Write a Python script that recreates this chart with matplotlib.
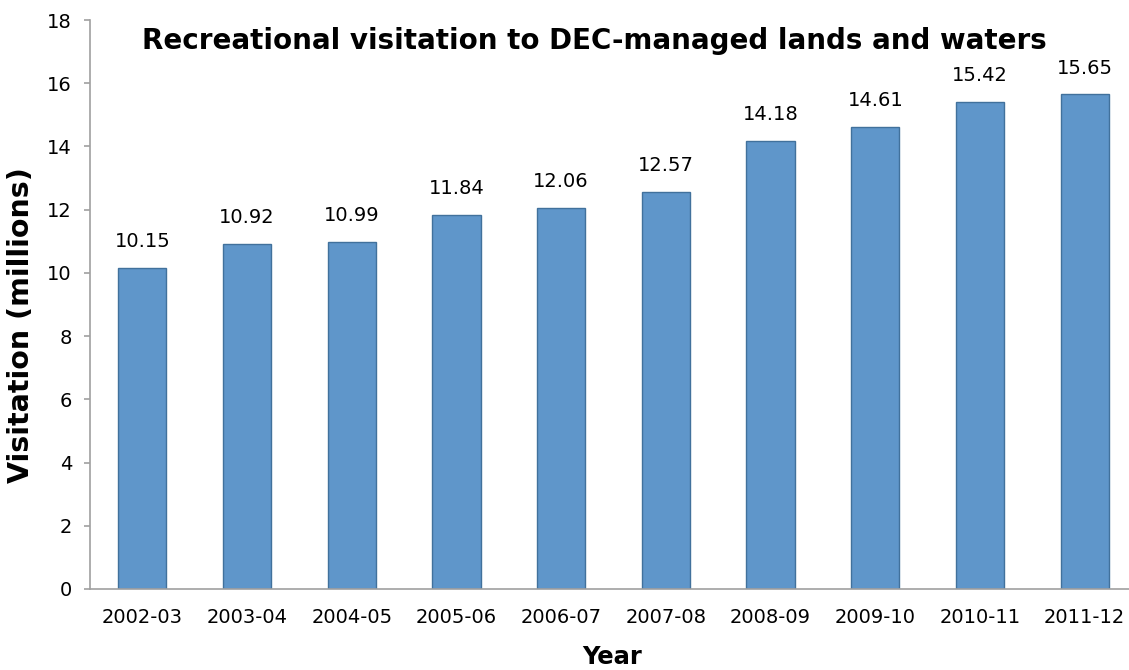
import matplotlib
matplotlib.use("Agg")
import matplotlib.pyplot as plt

years = ["2002-03", "2003-04", "2004-05", "2005-06", "2006-07",
         "2007-08", "2008-09", "2009-10", "2010-11", "2011-12"]
visits = [10.15, 10.92, 10.99, 11.84, 12.06, 12.57, 14.18, 14.61, 15.42, 15.65]
yticks = [0, 2, 4, 6, 8, 10, 12, 14, 16, 18]

plt.rcParams['font.family'] = ['DejaVu Sans']
W, H = 1129, 670
fig = plt.figure(figsize=(W / 100, H / 100), dpi=100)
ax_l, ax_b, ax_w, ax_h = 90, 589, 1047, 569
ax = fig.add_axes([ax_l / W, (H - ax_b) / H, ax_w / W, ax_h / H])

x = range(len(years))
ax.bar(x, visits, width=0.46, color="#5F96CA", edgecolor="#41719C", linewidth=1)
for xi, v in zip(x, visits):
    ax.annotate(f"{v:.2f}", (xi, v), xytext=(0, 12), textcoords="offset points",
                ha="center", va="bottom", fontsize=14)

ax.set_xlim(-0.5, len(years) - 0.5)
ax.set_ylim(0, 18)
ax.set_yticks(yticks)
ax.set_xticks(list(x))
ax.set_xticklabels(years, fontsize=14)
ax.tick_params(axis='y', labelsize=14, length=4, color="#A0A0A0", width=1.2, pad=9)
ax.tick_params(axis='x', length=0, pad=14)
for s in ["top", "right"]:
    ax.spines[s].set_visible(False)
for s in ["left", "bottom"]:
    ax.spines[s].set_color("#A0A0A0")
    ax.spines[s].set_linewidth(1.2)

ax.set_ylabel("Visitation (millions)", fontsize=20.5, fontweight="bold", va="center")
ax.yaxis.set_label_coords((21 - ax_l) / ax_w, (ax_b - 325) / ax_h)
ax.set_xlabel("Year", fontsize=17.5, fontweight="bold", va="center")
ax.xaxis.set_label_coords(0.5 - (ax_l + ax_w / 2 - 612) / ax_w, (ax_b - 657) / ax_h)
fig.text(594 / W, 1 - 41 / H, "Recreational visitation to DEC-managed lands and waters",
         ha="center", va="center", fontsize=20, fontweight="bold")

fig.savefig("out.png", dpi=100)
